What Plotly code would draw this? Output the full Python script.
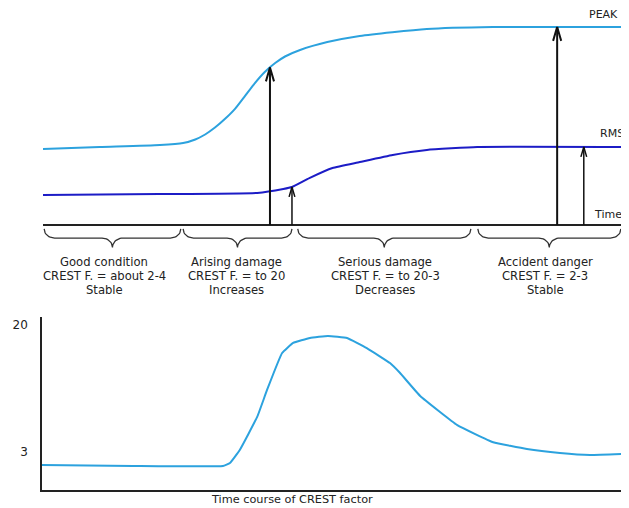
import numpy as np
import plotly.graph_objects as go

# ---------------- data (top diagram: PEAK / RMS over time) ----------------
peak_t = [0, 9.8, 20.2, 24.2, 26.3, 28.0, 29.7, 31.4, 33.2, 34.9, 36.6, 38.3, 40.1, 41.8,
          44.4, 49.1, 54.7, 66.3, 77.7, 88.8, 100]
peak_v = [38.4, 39.4, 40.4, 41.4, 43.2, 45.7, 49.2, 53.5, 58.8, 65.2, 71.7, 77.3, 81.8, 85.1,
          88.4, 92.4, 95.5, 99.0, 100, 100, 100]

rms_t = [0, 20, 37, 41.5, 43, 46, 50, 54.7, 60.4, 66.3, 75, 100]
rms_v = [15.2, 15.6, 16.2, 18.2, 19.2, 23.7, 28.8, 31.8, 35.4, 37.9, 39.4, 39.4]

peak_arrow_t = [39.2, 88.8]
rms_arrow_t = [43.0, 93.4]

seg_start = [0.2, 24.2, 44.0, 75.1]
seg_end = [23.8, 43.0, 73.9, 99.8]
seg_labels = [
    ["Good condition", "CREST F. = about 2-4", "Stable"],
    ["Arising damage", "CREST F. = to 20", "Increases"],
    ["Serious damage", "CREST F. = to 20-3", "Decreases"],
    ["Accident danger", "CREST F. = 2-3", "Stable"],
]

# ---------------- data (bottom: crest factor over time) ----------------
crest_t = [0, 15.7, 31.2, 32.4, 34.1, 37.1, 38.8, 41.4, 43.3, 46.2, 49.3, 52.6, 56.0,
           60.0, 61.7, 65.2, 71.6, 77.8, 83.6, 89.3, 94.5, 100]
crest_v = [1.26, 1.13, 1.13, 1.53, 3.27, 7.69, 11.3, 16.25, 17.6, 18.26, 18.53, 18.26, 16.9,
           14.9, 13.6, 10.5, 6.6, 4.3, 3.4, 2.87, 2.6, 2.73]
crest_ticks = [3, 20]

FONT = "DejaVu Sans"
TXT = "#222222"
PEAK_C = "#2ca2de"
RMS_C = "#1c1cc6"

# page has an 8px body margin: figure is laid out in window pixels minus that offset
OFF = 8
W, H = 629 - OFF, 508 - OFF


def px(x):
    return (x - OFF) / W


def py(y):
    return 1 - (y - OFF) / H


fig = go.Figure()

fig.add_trace(go.Scatter(x=peak_t, y=peak_v, mode="lines",
                         line=dict(color=PEAK_C, width=2, shape="spline", smoothing=0.6),
                         xaxis="x", yaxis="y", hoverinfo="skip"))
fig.add_trace(go.Scatter(x=rms_t, y=rms_v, mode="lines",
                         line=dict(color=RMS_C, width=2, shape="spline", smoothing=0.4),
                         xaxis="x", yaxis="y", hoverinfo="skip"))


def arrows(ts, tv, vs, hx, hy):
    xs, ys = [], []
    for t in ts:
        v = float(np.interp(t, tv, vs))
        xs += [t, t, None, t - hx, t, t + hx, None]
        ys += [0, v, None, v - hy, v, v - hy, None]
    return xs, ys


ax_, ay_ = arrows(peak_arrow_t, peak_t, peak_v, 0.7, 7.0)
fig.add_trace(go.Scatter(x=ax_, y=ay_, mode="lines", line=dict(color="#111", width=2),
                         xaxis="x", yaxis="y", hoverinfo="skip"))
ax_, ay_ = arrows(rms_arrow_t, rms_t, rms_v, 0.5, 5.0)
fig.add_trace(go.Scatter(x=ax_, y=ay_, mode="lines", line=dict(color="#111", width=1.5),
                         xaxis="x", yaxis="y", hoverinfo="skip"))

# braces under the time axis
Y_TOP, Y_MID, Y_TIP = -2.0, -6.6, -11.3
RX = 1.8
a = np.linspace(0, np.pi / 2, 12)
bx, by = [], []
for s, e in zip(seg_start, seg_end):
    m = (s + e) / 2
    bx += list(s + RX * (1 - np.cos(a)))
    by += list(Y_TOP + (Y_MID - Y_TOP) * np.sin(a))
    bx += list(m - RX + RX * np.sin(a))
    by += list(Y_MID + (Y_TIP - Y_MID) * (1 - np.cos(a)))
    bx += list(m + RX - RX * np.cos(a))
    by += list(Y_TIP - (Y_TIP - Y_MID) * np.sin(a))
    bx += list(e - RX + RX * np.sin(a))
    by += list(Y_MID + (Y_TOP - Y_MID) * (1 - np.cos(a)))
    bx.append(None)
    by.append(None)
fig.add_trace(go.Scatter(x=bx, y=by, mode="lines", line=dict(color="#333", width=1.3),
                         xaxis="x", yaxis="y", hoverinfo="skip"))

fig.add_trace(go.Scatter(x=crest_t, y=crest_v, mode="lines",
                         line=dict(color=PEAK_C, width=2, shape="spline", smoothing=0.3),
                         xaxis="x2", yaxis="y2", hoverinfo="skip"))

ann = []
for cx, lines in zip([104, 236, 385, 545], seg_labels):
    for k, txt in enumerate(lines):
        ann.append(dict(x=px(cx), y=py(262 + 14 * k), xref="paper", yref="paper", text=txt,
                        showarrow=False, xanchor="center", yanchor="middle",
                        font=dict(family=FONT, size=11.6, color=TXT)))
for txt, cx, cy in [("PEAK", 603, 14), ("RMS", 612, 133), ("Time", 608, 215)]:
    ann.append(dict(x=px(cx), y=py(cy), xref="paper", yref="paper", text=txt, showarrow=False,
                    xanchor="center", yanchor="middle",
                    font=dict(family=FONT, size=11, color=TXT)))
ann.append(dict(x=px(292), y=py(499), xref="paper", yref="paper",
                text="Time course of CREST factor",
                showarrow=False, xanchor="center", yanchor="middle",
                font=dict(family=FONT, size=11.3, color=TXT)))

top_axis_py = 225
unit = 1.98  # pixels per amplitude unit in the top diagram
fig.update_layout(
    width=W, height=H, autosize=False,
    margin=dict(l=0, r=0, t=0, b=0),
    paper_bgcolor="white", plot_bgcolor="white",
    showlegend=False,
    annotations=ann,
    xaxis=dict(domain=[px(43), px(622)], range=[0, 100], anchor="y",
               showgrid=False, zeroline=False, showline=False, showticklabels=False, ticks=""),
    yaxis=dict(domain=[py(top_axis_py + 13 * unit), 1.0],
               range=[-13, (top_axis_py - OFF) / unit], anchor="x",
               showgrid=False, zeroline=True, zerolinecolor="#222", zerolinewidth=2,
               showline=False, showticklabels=False, ticks=""),
    xaxis2=dict(domain=[px(42), px(622)], range=[0, 100], anchor="y2",
                showgrid=False, zeroline=False, showline=True, linecolor="#222", linewidth=1.5,
                showticklabels=False, ticks=""),
    yaxis2=dict(domain=[py(490), py(317)], range=[-2.09, 21.07], anchor="x2",
                showgrid=False, zeroline=False, showline=True, linecolor="#222", linewidth=1.5,
                tickmode="array", tickvals=crest_ticks, ticktext=[str(v) for v in crest_ticks],
                ticks="", ticklabelstandoff=10,
                tickfont=dict(family=FONT, size=12, color=TXT)),
)

fig.write_html("out.html")
